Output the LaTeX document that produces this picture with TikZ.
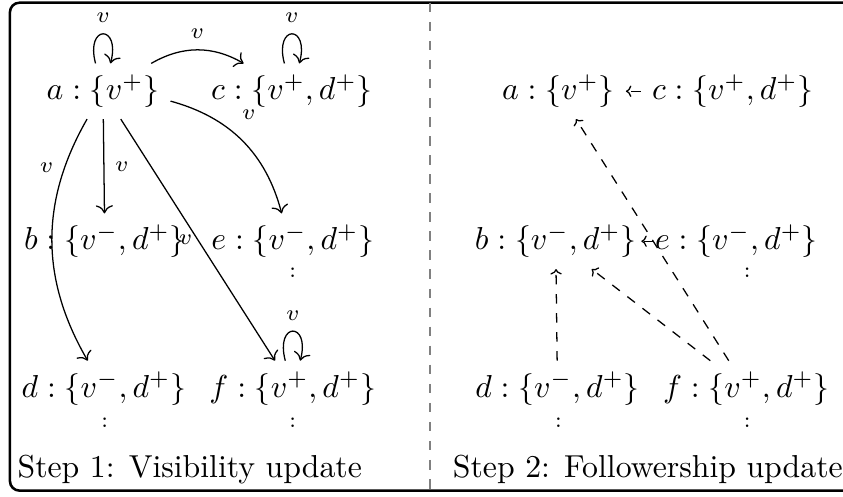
\documentclass[tikz,border=0pt]{standalone}
\usepackage{amsmath,amssymb}
\usepackage{tikz}
\usetikzlibrary{arrows.meta}

\begin{document}
\begin{tikzpicture}[
  more/.style={font=\scriptsize, inner sep=0pt},
  lbl/.style={font=\scriptsize},
  arr/.style={-{To[length=0.9mm]}},
  farr/.style={-{To[length=0.6mm]}, dashed}]
\useasboundingbox (0,0) rectangle (9.33,-5.49);
\draw[line width=0.8pt, rounded corners=3pt] (0.11,-0.03) rectangle (10.2,-5.43);
\draw[gray, dashed, line width=0.5pt] (4.76,-0.03) -- (4.76,-5.43);
% step 1
\node (a1) at (1.14,-1.01) {$a:\{v^+\}$};
\node (c1) at (3.23,-1.01) {$c:\{v^+,d^+\}$};
\node (b1) at (1.16,-2.67) {$b:\{v^-,d^+\}$};
\node (e1) at (3.24,-2.67) {$e:\{v^-,d^+\}$};
\node (d1) at (1.15,-4.30) {$d:\{v^-,d^+\}$};
\node (f1) at (3.24,-4.30) {$f:\{v^+,d^+\}$};
\node[more] (e1m) at (3.24,-3.02) {$:$};
\node[more] (d1m) at (1.16,-4.68) {$:$};
\node[more] (f1m) at (3.24,-4.68) {$:$};
\node (s1) at (2.10,-5.20) {Step 1: Visibility update};
\draw (a1) edge[arr, loop above, min distance=4.5mm] node[lbl, above] {$v$} (a1);
\draw (c1) edge[arr, loop above, min distance=4.5mm] node[lbl, above] {$v$} (c1);
\draw (f1) edge[arr, loop above, min distance=4.5mm] node[lbl, above] {$v$} (f1);
\draw[arr] (a1) to[bend left] node[lbl, above] {$v$} (c1);
\draw[arr] (a1) to[bend left] node[lbl, pos=0.4, above right] {$v$} (e1);
\draw[arr] (a1) -- node[lbl, right] {$v$} (b1);
\draw[arr] (a1) to[bend right] node[lbl, pos=0.2, left] {$v$} (d1);
\draw[arr] (a1) -- node[lbl, left, inner sep=1.5pt] {$v$} (f1);
% step 2
\node (a2) at (6.18,-1.01) {$a:\{v^+\}$};
\node (c2) at (8.11,-1.01) {$c:\{v^+,d^+\}$};
\node (b2) at (6.15,-2.67) {$b:\{v^-,d^+\}$};
\node (e2) at (8.15,-2.67) {$e:\{v^-,d^+\}$};
\node (d2) at (6.17,-4.30) {$d:\{v^-,d^+\}$};
\node (f2) at (8.26,-4.30) {$f:\{v^+,d^+\}$};
\node[more] (e2m) at (8.27,-3.02) {$:$};
\node[more] (d2m) at (6.18,-4.68) {$:$};
\node[more] (f2m) at (8.27,-4.68) {$:$};
\node (s2) at (7.17,-5.20) {Step 2: Followership update};
\draw[farr] (c2) -- (a2);
\draw[farr] (f2) -- (a2);
\draw[farr] (f2) -- (b2);
\draw[farr] (d2) -- (b2);
\draw[farr] ([xshift=3pt]e2.west) -- ([xshift=-2pt]b2.east);
\end{tikzpicture}
\end{document}
